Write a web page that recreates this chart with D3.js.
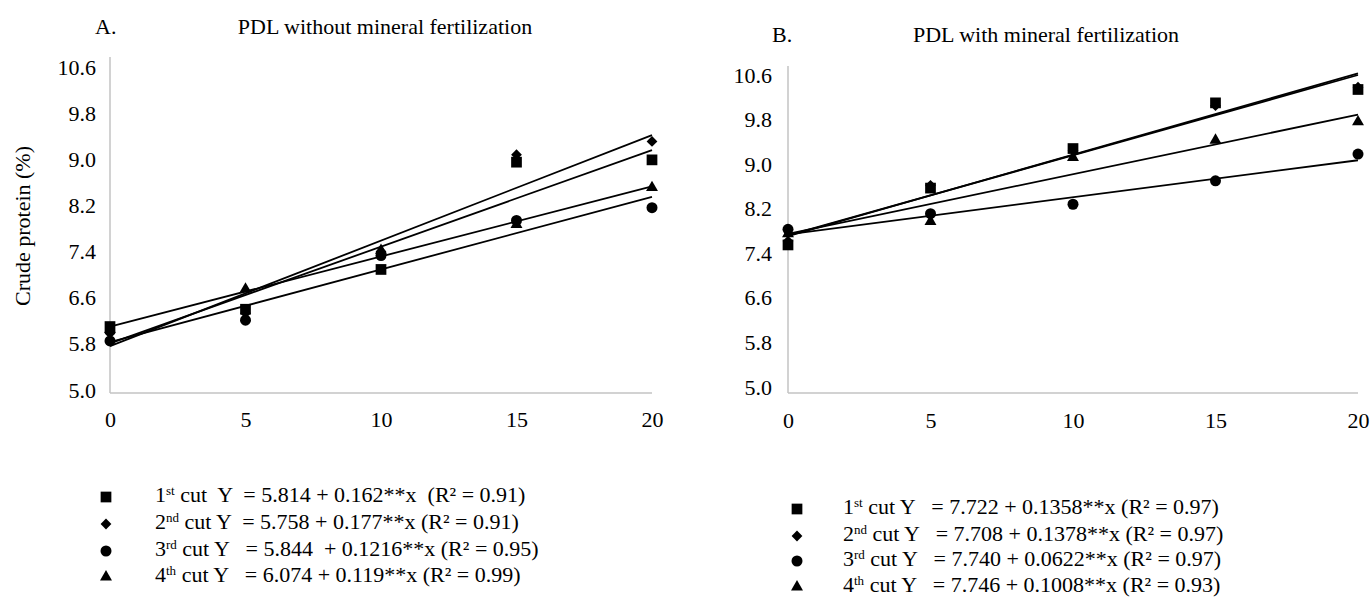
<!DOCTYPE html>
<html>
<head>
<meta charset="utf-8">
<script src="https://cdn.jsdelivr.net/npm/d3@7"></script>
<style>
	body { margin: 0; background: #fff; }
	text { white-space: pre; fill: #000; }
</style>
</head>
<body>
<svg width="1372" height="597"></svg>
<script>
//* Data
const doses = [0, 5, 10, 15, 20];
const yTicks = [5.0, 5.8, 6.6, 7.4, 8.2, 9.0, 9.8, 10.6];
const cutNames = ["1", "2", "3", "4"];
const cutSuffix = ["st", "nd", "rd", "th"];

// panel A: PDL without mineral fertilization
const aCut1 = [6.10, 6.40, 7.09, 8.95, 8.99];
const aCut2 = [5.98, 6.33, 7.40, 9.08, 9.31];
const aCut3 = [5.85, 6.21, 7.33, 7.94, 8.16];
const aCut4 = [6.05, 6.75, 7.42, 7.87, 8.51];
const aTrend = [[5.81, 9.16], [5.76, 9.42], [5.83, 8.35], [6.10, 8.53]];
const aEquations = [
	" cut  Y  = 5.814 + 0.162**x  (R² = 0.91)",
	" cut Y  = 5.758 + 0.177**x (R² = 0.91)",
	" cut Y   = 5.844  + 0.1216**x (R² = 0.95)",
	" cut Y   = 6.074 + 0.119**x (R² = 0.99)"
];

// panel B: PDL with mineral fertilization
const bCut1 = [7.55, 8.57, 9.28, 10.10, 10.34];
const bCut2 = [7.62, 8.62, 9.25, 10.05, 10.38];
const bCut3 = [7.83, 8.11, 8.28, 8.70, 9.18];
const bCut4 = [7.75, 7.97, 9.12, 9.43, 9.76];
const bTrend = [[7.72, 10.60], [7.71, 10.63], [7.74, 9.07], [7.75, 9.89]];
const bEquations = [
	" cut Y   = 7.722 + 0.1358**x (R² = 0.97)",
	" cut Y   = 7.708 + 0.1378**x (R² = 0.97)",
	" cut Y   = 7.740 + 0.0622**x (R² = 0.97)",
	" cut Y   = 7.746 + 0.1008**x (R² = 0.93)"
];

const svg = d3.select("svg");
const serif = "'Liberation Serif', 'Times New Roman', serif";

//* symbols for the four cuts
const symbols = [
	{ type: d3.symbolSquare, size: 115, rot: 0 },
	{ type: d3.symbolSquare, size: 58, rot: 45 },
	{ type: d3.symbolCircle, size: 95, rot: 0 },
	{ type: d3.symbolTriangle, size: 62, rot: 0 }
];
const symbolPath = (i) => d3.symbol().type(symbols[i].type).size(symbols[i].size)();

function drawPanel(p) {
	const x = d3.scaleLinear().domain([0, 20]).range(p.xRange);
	const y = d3.scaleLinear().domain([5.0, 10.6]).range(p.yRange);
	const g = svg.append("g");

	//* titles
	g.append("text")
		.attr("x", p.letterX)
		.attr("y", p.titleY)
		.style("font-family", serif)
		.style("font-size", "22px")
		.text(p.letter);
	g.append("text")
		.attr("x", p.titleX)
		.attr("y", p.titleY)
		.attr("text-anchor", "middle")
		.style("font-family", serif)
		.style("font-size", "22px")
		.text(p.title);

	//* axes lines (gray)
	g.append("line")
		.attr("x1", x(0)).attr("x2", x(0))
		.attr("y1", p.axisTop).attr("y2", p.axisY)
		.attr("stroke", "#c3c3c3").attr("stroke-width", 1.5);
	g.append("line")
		.attr("x1", x(0)).attr("x2", x(20))
		.attr("y1", p.axisY).attr("y2", p.axisY)
		.attr("stroke", "#c3c3c3").attr("stroke-width", 1.5);

	//* tick labels
	const yAxis = g.append("g")
		.attr("transform", `translate(${x(0) - p.yLabelGap}, 0)`)
		.call(d3.axisLeft(y).tickValues(yTicks).tickSize(0).tickPadding(0).tickFormat(d3.format(".1f")));
	yAxis.select(".domain").remove();
	yAxis.selectAll("text")
		.style("font-family", serif)
		.style("font-size", "22px")
		.attr("fill", "#000");

	const xAxis = g.append("g")
		.attr("transform", `translate(0, ${p.xLabelY})`)
		.call(d3.axisBottom(x).tickValues(doses).tickSize(0).tickPadding(0));
	xAxis.select(".domain").remove();
	xAxis.selectAll("text")
		.attr("dy", "0.35em")
		.style("font-family", serif)
		.style("font-size", "22px")
		.attr("fill", "#000");

	//* trend lines
	g.selectAll("line.trend")
		.data(p.trend)
		.enter()
		.append("line")
		.attr("class", "trend")
		.attr("x1", x(0)).attr("x2", x(20))
		.attr("y1", (d) => y(d[0]))
		.attr("y2", (d) => y(d[1]))
		.attr("stroke", "#000")
		.attr("stroke-width", 1.8);

	//* points (draw in reverse so square sits on top)
	p.series.slice().reverse().forEach((vals, ri) => {
		const si = p.series.length - 1 - ri;
		g.selectAll(null)
			.data(vals)
			.enter()
			.append("path")
			.attr("d", symbolPath(si))
			.attr("transform", (d, i) => `translate(${x(doses[i])}, ${y(d)}) rotate(${symbols[si].rot})`)
			.attr("fill", "#000");
	});

	//* legend
	const rows = g.selectAll("g.legend-row")
		.data(p.equations)
		.enter()
		.append("g")
		.attr("class", "legend-row");
	rows.append("path")
		.attr("d", (_, i) => symbolPath(i))
		.attr("transform", (_, i) => `translate(${p.legendMarkX}, ${p.legendY[i] - 5}) rotate(${symbols[i].rot})`)
		.attr("fill", "#000");
	const txt = rows.append("text")
		.attr("x", p.legendTextX)
		.attr("y", (_, i) => p.legendY[i])
		.style("font-family", serif)
		.style("font-size", "22px");
	txt.append("tspan").text((_, i) => cutNames[i]);
	txt.append("tspan")
		.attr("dy", -7)
		.style("font-size", "13px")
		.text((_, i) => cutSuffix[i]);
	txt.append("tspan")
		.attr("dy", 7)
		.text((d) => d);
}

drawPanel({
	letter: "A.", letterX: 95, title: "PDL without mineral fertilization", titleX: 385, titleY: 34,
	xRange: [110, 652], yRange: [390, 67], axisTop: 57, axisY: 393, yLabelGap: 14, xLabelY: 419,
	series: [aCut1, aCut2, aCut3, aCut4], trend: aTrend, equations: aEquations,
	legendMarkX: 106, legendTextX: 155, legendY: [502, 529, 556, 582]
});

drawPanel({
	letter: "B.", letterX: 772, title: "PDL with mineral fertilization", titleX: 1046, titleY: 42,
	xRange: [788, 1358], yRange: [387, 75], axisTop: 66, axisY: 393, yLabelGap: 16, xLabelY: 420,
	series: [bCut1, bCut2, bCut3, bCut4], trend: bTrend, equations: bEquations,
	legendMarkX: 797, legendTextX: 843, legendY: [514, 541, 566, 592]
});

//* y axis title
svg.append("text")
	.attr("transform", "translate(30, 226) rotate(-90)")
	.attr("text-anchor", "middle")
	.style("font-family", serif)
	.style("font-size", "22px")
	.text("Crude protein (%)");
</script>
</body>
</html>
